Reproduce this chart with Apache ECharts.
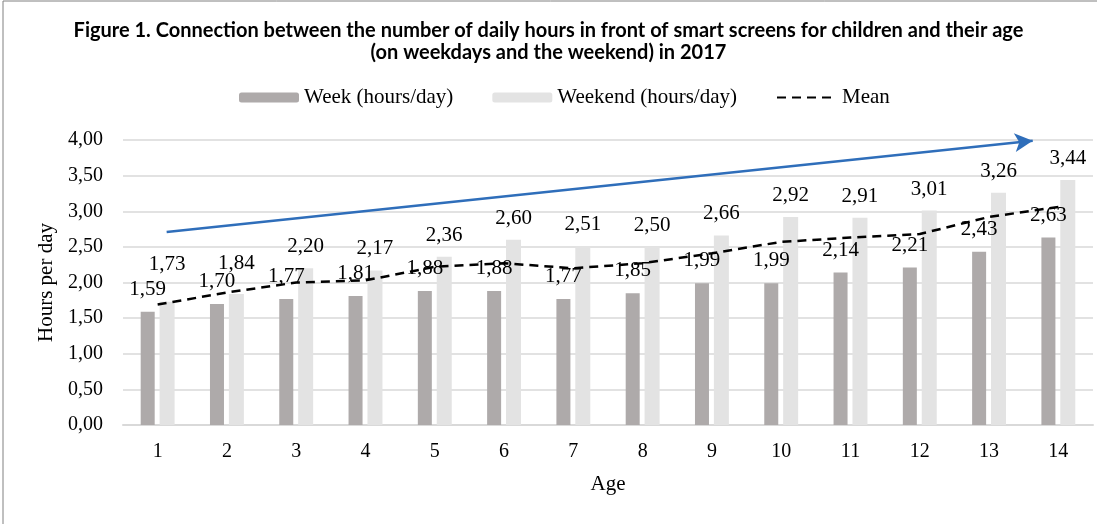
<!DOCTYPE html>
<html>
<head>
<meta charset="utf-8">
<script src="https://cdn.jsdelivr.net/npm/echarts@6/dist/echarts.min.js"></script>
<style>
html,body{margin:0;padding:0;background:#fff;}
#c{width:1097px;height:524px;}
</style>
</head>
<body>
<div id="c"></div>
<script>
const categories = ['1','2','3','4','5','6','7','8','9','10','11','12','13','14'];
const week = [1.59,1.70,1.77,1.81,1.88,1.88,1.77,1.85,1.99,1.99,2.14,2.21,2.43,2.63];
const weekend = [1.73,1.84,2.20,2.17,2.36,2.60,2.51,2.50,2.66,2.92,2.91,3.01,3.26,3.44];
const mean = [1.69,1.86,2.00,2.03,2.22,2.27,2.20,2.27,2.41,2.57,2.63,2.68,2.92,3.06];
const trendArrow = [[1.13,2.71],[13.63,3.99]];
const yTicks = [0,0.5,1,1.5,2,2.5,3,3.5,4];

const serif = '"Liberation Serif","Times New Roman",serif';
const fmt = v => v.toFixed(2).replace('.', ',');

const chart = echarts.init(document.getElementById('c'));
const weekendData = weekend.map((v, i) => {
  if (i === 0) return {value: v, label: {offset: [0, -16]}};
  if (i === 1) return {value: v, label: {offset: [0, -9]}};
  return v;
});
chart.setOption({
  animation: false,
  backgroundColor: '#fff',
  title: {
    text: 'Figure 1. Connection between the number of daily hours in front of smart screens for children and their age\n(on weekdays and the weekend) in 2017',
    left: 'center',
    top: 15,
    textStyle: {fontFamily: 'Lato, sans-serif', fontSize: 20, fontWeight: 'bold', color: '#000', lineHeight: 22, align: 'center'}
  },
  legend: {
    top: 82,
    left: 234,
    itemWidth: 60,
    itemHeight: 10,
    itemGap: 39,
    textStyle: {fontFamily: serif, fontSize: 21, color: '#000'},
    data: ['Week (hours/day)', 'Weekend (hours/day)', {name: 'Mean', itemStyle: {opacity: 0}}]
  },
  grid: {left: 123, right: 4, top: 140, bottom: 99},
  xAxis: [{
    type: 'category',
    data: categories,
    name: 'Age',
    nameLocation: 'middle',
    nameGap: 49,
    nameTextStyle: {fontFamily: serif, fontSize: 21, color: '#000'},
    axisLine: {lineStyle: {color: '#d9d9d9', width: 2}},
    axisTick: {show: false},
    axisLabel: {fontFamily: serif, fontSize: 20, color: '#000', margin: 17}
  }, {
    type: 'value', min: 0.5, max: 14.5, show: false
  }],
  yAxis: {
    type: 'value',
    min: 0, max: 4, interval: 0.5,
    name: 'Hours per day',
    nameLocation: 'middle',
    nameGap: 66,
    nameTextStyle: {fontFamily: serif, fontSize: 21, color: '#000'},
    axisLine: {show: false},
    axisTick: {show: false},
    splitLine: {lineStyle: {color: '#d9d9d9', width: 1.5}},
    axisLabel: {fontFamily: serif, fontSize: 20, color: '#000', margin: 20, formatter: v => fmt(v)}
  },
  series: [{
    name: 'Week (hours/day)',
    type: 'bar',
    data: week,
    barWidth: 14,
    barGap: '35%',
    itemStyle: {color: '#aeaaaa'},
    label: {show: true, position: 'top', distance: 12, fontFamily: serif, fontSize: 21, color: '#000', formatter: p => fmt(p.value)}
  }, {
    name: 'Weekend (hours/day)',
    type: 'bar',
    data: weekendData,
    barWidth: 15,
    itemStyle: {color: '#e3e3e3'},
    label: {show: true, position: 'top', distance: 11, fontFamily: serif, fontSize: 21, color: '#000', formatter: p => fmt(p.value)}
  }, {
    name: 'Mean',
    type: 'line',
    data: mean,
    symbol: 'none',
    z: 5,
    lineStyle: {color: '#000', width: 2.5, type: [9, 6]},
    itemStyle: {color: '#000'}
  }, {
    name: 'trend',
    type: 'line',
    xAxisIndex: 1,
    data: [],
    symbol: 'none',
    z: 6,
    markLine: {
      silent: true,
      symbol: ['none', 'arrow'],
      symbolSize: [14, 18],
      label: {show: false},
      lineStyle: {color: '#2f6eba', width: 2.5, type: 'solid'},
      data: [[{coord: trendArrow[0]}, {coord: trendArrow[1]}]]
    }
  }],
  graphic: [{
    type: 'rect',
    shape: {x: 3, y: 1, width: 1200, height: 600},
    style: {fill: 'none', stroke: '#808080', lineWidth: 1},
    silent: true
  }]
});
</script>
</body>
</html>
